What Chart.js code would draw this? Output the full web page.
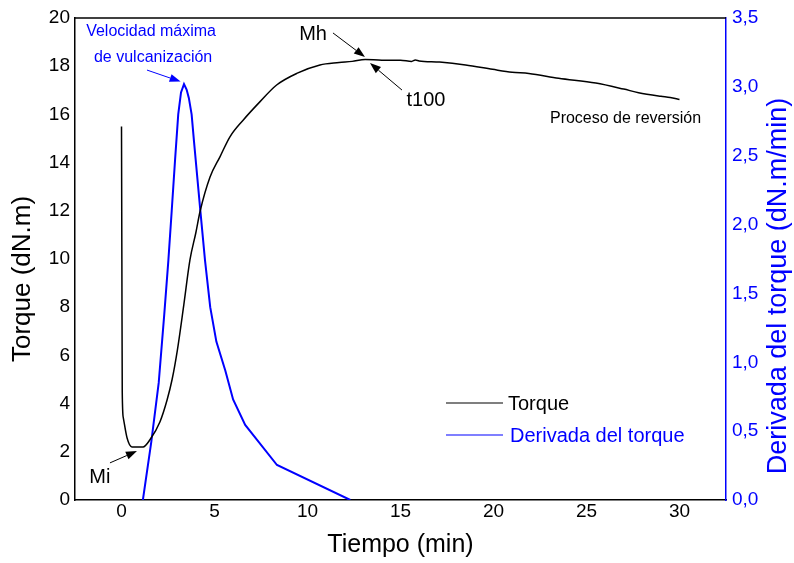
<!DOCTYPE html>
<html><head><meta charset="utf-8">
<script src="https://cdn.jsdelivr.net/npm/chart.js@4.4.0/dist/chart.umd.min.js"></script>
<style>html,body{margin:0;padding:0;background:#fff;}canvas{display:block;}</style>
</head><body>
<canvas id="c" width="794" height="563"></canvas>
<script>
// ---- data ----
const torqueTime = [0, 0.02, 0.04, 0.1, 0.3, 0.56, 0.85, 1.16, 1.53, 2.07, 2.45, 2.72, 3.0, 3.35, 3.68, 4.0, 4.22, 4.76, 5.3, 5.83, 6.55, 7.45, 8.34, 9.42, 10.67, 11.7, 12.4, 13.1, 14.0, 15.0, 15.6, 15.8, 16.0, 17.1, 18.5, 19.95, 21.0, 21.9, 23.5, 25.5, 27.0, 27.8, 29.0, 29.5, 30.0];
const torqueValues = [15.5, 10.0, 4.5, 3.4, 2.57, 2.2, 2.2, 2.2, 2.5, 3.25, 4.15, 5.0, 6.2, 8.1, 9.96, 11.1, 11.96, 13.4, 14.25, 15.07, 15.77, 16.53, 17.22, 17.7, 18.05, 18.15, 18.2, 18.28, 18.25, 18.25, 18.2, 18.26, 18.22, 18.17, 18.05, 17.87, 17.75, 17.7, 17.5, 17.3, 17.05, 16.9, 16.75, 16.7, 16.62];
const derivTime = [1.15, 1.6, 2.0, 2.3, 2.52, 2.7, 2.88, 3.05, 3.2, 3.36, 3.5, 3.62, 3.77, 3.9, 4.24, 4.49, 4.77, 5.1, 5.58, 6.0, 6.65, 8.36, 12.3];
const derivValues = [0, 0.42, 0.85, 1.35, 1.74, 2.1, 2.47, 2.8, 2.96, 3.02, 2.98, 2.92, 2.8, 2.6, 2.1, 1.74, 1.4, 1.15, 0.94, 0.73, 0.545, 0.254, 0];
const xTickValues = [0, 5, 10, 15, 20, 25, 30];
const torqueTickValues = [0, 2, 4, 6, 8, 10, 12, 14, 16, 18, 20];
const derivTickValues = [0, 0.5, 1.0, 1.5, 2.0, 2.5, 3.0, 3.5];
const seriesNames = ['Torque', 'Derivada del torque'];
const axisTitles = ['Tiempo (min)', 'Torque (dN.m)', 'Derivada del torque (dN.m/min)'];
const noteTexts = ['Velocidad máxima', 'de vulcanización', 'Mh', 't100', 'Proceso de reversión', 'Mi'];

// ---- styling / placement ----
const FONT = '"Liberation Sans", Arial, sans-serif';
const BLUE = '#0000ff';
// annotation anchors in data units (x: min, y: torque)
const notePlacement = [
  {x: 1.59, y: 19.42, size: 16, color: BLUE},
  {x: 1.70, y: 18.34, size: 16, color: BLUE},
  {x: 10.30, y: 19.32, size: 20, color: '#000'},
  {x: 16.37, y: 16.56, size: 20, color: '#000'},
  {x: 27.1, y: 15.81, size: 16, color: '#000'},
  {x: -1.16, y: 0.95, size: 20, color: '#000'}
];
const arrowPlacement = [
  {x1: 1.37, y1: 17.84, x2: 3.18, y2: 17.36, color: BLUE},
  {x1: 11.37, y1: 19.38, x2: 13.09, y2: 18.38, color: '#000'},
  {x1: 15.08, y1: 17.01, x2: 13.36, y2: 18.13, color: '#000'},
  {x1: -0.62, y1: 1.54, x2: 0.83, y2: 2.03, color: '#000'}
];

function drawArrow(ctx, x1, y1, x2, y2, color) {
  const ang = Math.atan2(y2 - y1, x2 - x1);
  const L = 11, W = 4;
  const bx = x2 - L * Math.cos(ang), by = y2 - L * Math.sin(ang);
  ctx.save();
  ctx.strokeStyle = color; ctx.fillStyle = color; ctx.lineWidth = 1;
  ctx.beginPath(); ctx.moveTo(x1, y1); ctx.lineTo(bx, by); ctx.stroke();
  ctx.beginPath(); ctx.moveTo(x2, y2);
  ctx.lineTo(bx + W * Math.sin(ang), by - W * Math.cos(ang));
  ctx.lineTo(bx - W * Math.sin(ang), by + W * Math.cos(ang));
  ctx.closePath(); ctx.fill();
  ctx.restore();
}

const decorPlugin = {
  id: 'decor',
  afterDraw(chart) {
    const ctx = chart.ctx, a = chart.chartArea;
    const xs = chart.scales.x, ys = chart.scales.y;
    ctx.save();
    // top frame line
    ctx.strokeStyle = '#000'; ctx.lineWidth = 1.5;
    ctx.beginPath(); ctx.moveTo(a.left, a.top); ctx.lineTo(a.right, a.top); ctx.stroke();

    // axis titles
    ctx.textAlign = 'center'; ctx.textBaseline = 'middle';
    ctx.fillStyle = '#000'; ctx.font = '25px ' + FONT;
    ctx.fillText(axisTitles[0], (a.left + a.right) / 2, 545);
    ctx.save(); ctx.translate(23, 279); ctx.rotate(-Math.PI / 2);
    ctx.font = '26px ' + FONT; ctx.fillText(axisTitles[1], 0, 0); ctx.restore();
    ctx.save(); ctx.translate(779, 286); ctx.rotate(-Math.PI / 2);
    ctx.fillStyle = BLUE; ctx.font = '27px ' + FONT; ctx.fillText(axisTitles[2], 0, 0); ctx.restore();

    // annotations
    noteTexts.forEach((t, i) => {
      const p = notePlacement[i];
      ctx.font = p.size + 'px ' + FONT; ctx.fillStyle = p.color;
      ctx.fillText(t, xs.getPixelForValue(p.x), ys.getPixelForValue(p.y));
    });
    arrowPlacement.forEach(r => drawArrow(ctx,
      xs.getPixelForValue(r.x1), ys.getPixelForValue(r.y1),
      xs.getPixelForValue(r.x2), ys.getPixelForValue(r.y2), r.color));

    // legend
    const lx = a.left + 371, ly = a.top + 385, gap = 32;
    chart.data.datasets.forEach((d, i) => {
      const y = ly + i * gap;
      ctx.strokeStyle = d.borderColor; ctx.lineWidth = 1.2;
      ctx.beginPath(); ctx.moveTo(lx, y); ctx.lineTo(lx + 57, y); ctx.stroke();
      ctx.fillStyle = d.borderColor; ctx.font = '20px ' + FONT;
      ctx.textAlign = 'left';
      ctx.fillText(d.label, lx + 62 + i * 2, y + 1);
    });
    ctx.restore();
  }
};

function fixedTicks(values) {
  return scale => { scale.ticks = values.map(v => ({value: v})); };
}

new Chart(document.getElementById('c'), {
  type: 'line',
  data: {
    datasets: [
      {label: seriesNames[0], data: torqueTime.map((t, i) => ({x: t, y: torqueValues[i]})),
       borderColor: '#000', borderWidth: 1.5, pointRadius: 0, yAxisID: 'y',
       cubicInterpolationMode: 'monotone'},
      {label: seriesNames[1], data: derivTime.map((t, i) => ({x: t, y: derivValues[i]})),
       borderColor: BLUE, borderWidth: 2, pointRadius: 0, yAxisID: 'y1', tension: 0}
    ]
  },
  options: {
    responsive: false, animation: false, devicePixelRatio: 1,
    layout: {padding: {top: 18, left: 0, right: 0, bottom: 0}},
    plugins: {legend: {display: false}, tooltip: {enabled: false}},
    scales: {
      x: {
        type: 'linear', min: -2.5, max: 32.5,
        afterBuildTicks: fixedTicks(xTickValues),
        grid: {display: false, drawTicks: false},
        border: {color: '#000', width: 1.5},
        ticks: {color: '#000', font: {family: FONT, size: 19}, padding: 0, maxRotation: 0},
        afterFit: s => { s.height = 63; }
      },
      y: {
        position: 'left', min: 0, max: 20,
        afterBuildTicks: fixedTicks(torqueTickValues),
        grid: {display: false, drawTicks: false},
        border: {color: '#000', width: 1.5},
        ticks: {color: '#000', font: {family: FONT, size: 19}, padding: 5},
        afterFit: s => { s.width = 75; }
      },
      y1: {
        position: 'right', min: 0, max: 3.5,
        afterBuildTicks: fixedTicks(derivTickValues),
        grid: {display: false, drawTicks: false},
        border: {color: BLUE, width: 1.5},
        ticks: {color: BLUE, font: {family: FONT, size: 19}, padding: 6,
                callback: v => v.toFixed(1).replace('.', ',')},
        afterFit: s => { s.width = 68; }
      }
    }
  },
  plugins: [decorPlugin]
});
</script>
</body></html>
